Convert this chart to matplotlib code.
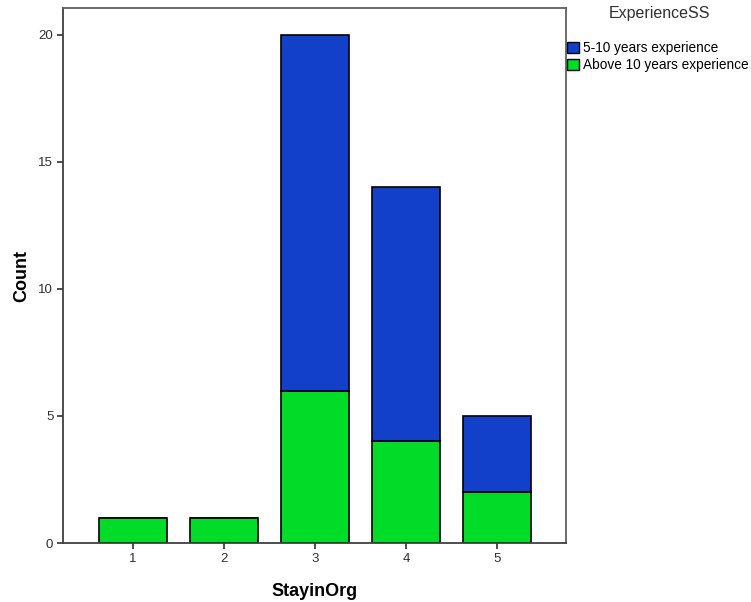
import numpy as np
import matplotlib.pyplot as plt
from matplotlib.patches import Patch

plt.rcParams['font.family'] = ['Liberation Sans', 'DejaVu Sans']

# data
stay = [1, 2, 3, 4, 5]
above10 = [1, 1, 6, 4, 2]
five_to_10 = [0, 0, 14, 10, 3]
labels = ['5-10 years experience', 'Above 10 years experience']
blue = '#1240c8'
green = '#00dc28'

fig = plt.figure(figsize=(7.51, 6.02), dpi=100)
ax = fig.add_axes([0.0839, 0.098, 0.6698, 0.8887])

ax.bar(stay, above10, width=0.75, color=green, edgecolor='black', lw=1.2, zorder=2)
ax.bar(stay, five_to_10, bottom=above10, width=0.75, color=blue,
       edgecolor='black', lw=1.2, zorder=2)

ax.set_xlim(0.23, 5.76)
ax.set_ylim(0, 21.06)
ax.set_xticks(stay)
ax.set_yticks([0, 5, 10, 15, 20])
ax.tick_params(length=4, width=1.2, color='#303030', labelsize=9.5, labelcolor='#303030', pad=3)
for s in ax.spines.values():
    s.set_color('#606060')
    s.set_linewidth(1.3)
ax.spines['bottom'].set_color('#404040')
ax.spines['left'].set_color('#404040')

ax.set_xlabel('StayinOrg', fontsize=13, fontweight='bold', labelpad=13)
ax.set_ylabel('Count', fontsize=13, fontweight='bold', labelpad=6)

fig.text(0.878, 0.977, 'ExperienceSS', ha='center', va='center', fontsize=11.5, color='#303030')
handles = [Patch(facecolor=blue, edgecolor='black'), Patch(facecolor=green, edgecolor='black')]
fig.legend(handles, labels, loc='upper left', bbox_to_anchor=(0.755, 0.932),
           frameon=False, fontsize=9.8, handlelength=0.85, handleheight=0.85,
           handletextpad=0.3, labelspacing=0.25, borderaxespad=0, borderpad=0)

fig.savefig('out.png', dpi=100)
